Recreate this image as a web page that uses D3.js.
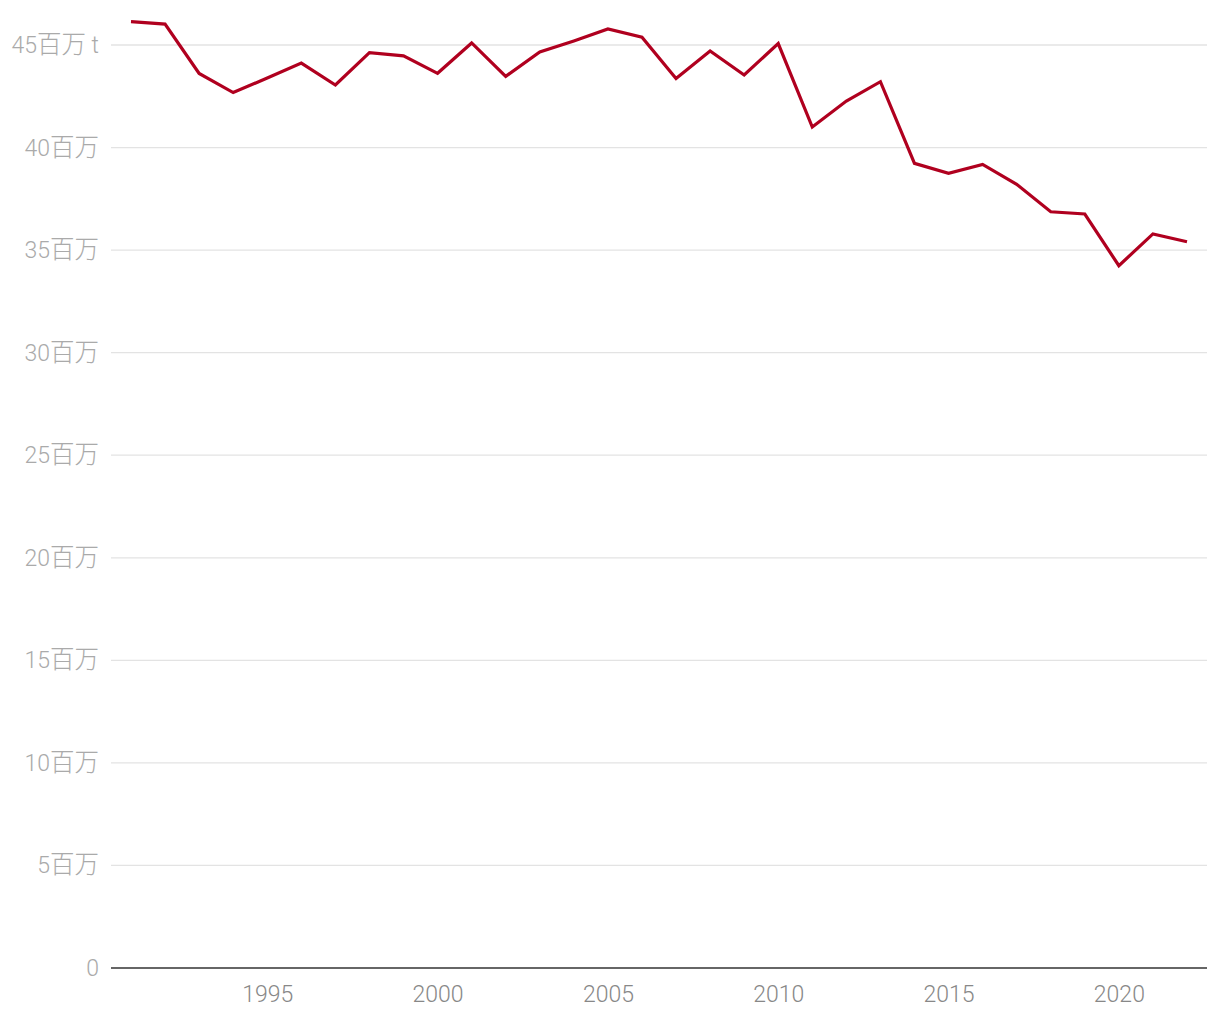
<!DOCTYPE html>
<html><head><meta charset="utf-8">
<script src="https://cdn.jsdelivr.net/npm/d3@7"></script>
<style>
body{margin:0;background:#fff;}
text{font-family:Roboto,"Noto Sans CJK SC",sans-serif;font-weight:300;}
</style></head>
<body><svg id="c" width="1220" height="1020"></svg>
<script>
const years = [1991,1992,1993,1994,1995,1996,1997,1998,1999,2000,2001,2002,2003,2004,2005,2006,2007,2008,2009,2010,2011,2012,2013,2014,2015,2016,2017,2018,2019,2020,2021,2022];
const values = [46.14,46.02,43.61,42.68,43.39,44.12,43.05,44.63,44.47,43.62,45.10,43.47,44.66,45.20,45.78,45.38,43.37,44.71,43.54,45.07,41.00,42.27,43.21,39.23,38.74,39.18,38.21,36.87,36.76,34.24,35.79,35.41]; // millions of tonnes
const yTicks = [0,5,10,15,20,25,30,35,40,45];
const xTicks = [1995,2000,2005,2010,2015,2020];
const unitLabel = "百万";
const unitSuffix = " t";

const svg = d3.select("#c");
const L = 111, R = 1207, pad = 20;
const x = d3.scaleLinear().domain([1991,2022]).range([L+pad, R-pad]);
const y = d3.scaleLinear().domain([0,45]).range([968,45]);

// gridlines
svg.append("g").selectAll("line").data(yTicks.filter(d=>d>0)).join("line")
  .attr("x1",L).attr("x2",R).attr("y1",d=>y(d)).attr("y2",d=>y(d))
  .attr("stroke","#e3e3e3").attr("stroke-width",1.3);

// y labels
const yl = svg.append("g").selectAll("text").data(yTicks).join("text")
  .attr("x",99).attr("y",d=>y(d)).attr("dy","0.35em")
  .attr("text-anchor","end").attr("font-size",23).attr("fill","#aaaaaa");
yl.append("tspan").text(d=>d);
yl.filter(d=>d>0).append("tspan").attr("font-size",24.5).text(unitLabel);
yl.filter(d=>d===45).append("tspan").text(unitSuffix);

// x axis
const xAxis = d3.axisBottom(x).tickValues(xTicks).tickFormat(d3.format("d")).tickSize(0).tickPadding(18);
const gx = svg.append("g").attr("transform",`translate(0,${y(0)})`).call(xAxis);
gx.select(".domain").remove();
gx.selectAll("text").attr("font-size",23).attr("fill","#888888").attr("font-family",null);
svg.append("line").attr("x1",L).attr("x2",R).attr("y1",y(0)).attr("y2",y(0))
  .attr("stroke","#333").attr("stroke-width",1.6);

// line
const line = d3.line().x((d,i)=>x(years[i])).y(d=>y(d));
svg.append("path").datum(values).attr("d",line)
  .attr("fill","none").attr("stroke","#b0001f").attr("stroke-width",3.2)
  .attr("stroke-linejoin","miter");
</script></body></html>
